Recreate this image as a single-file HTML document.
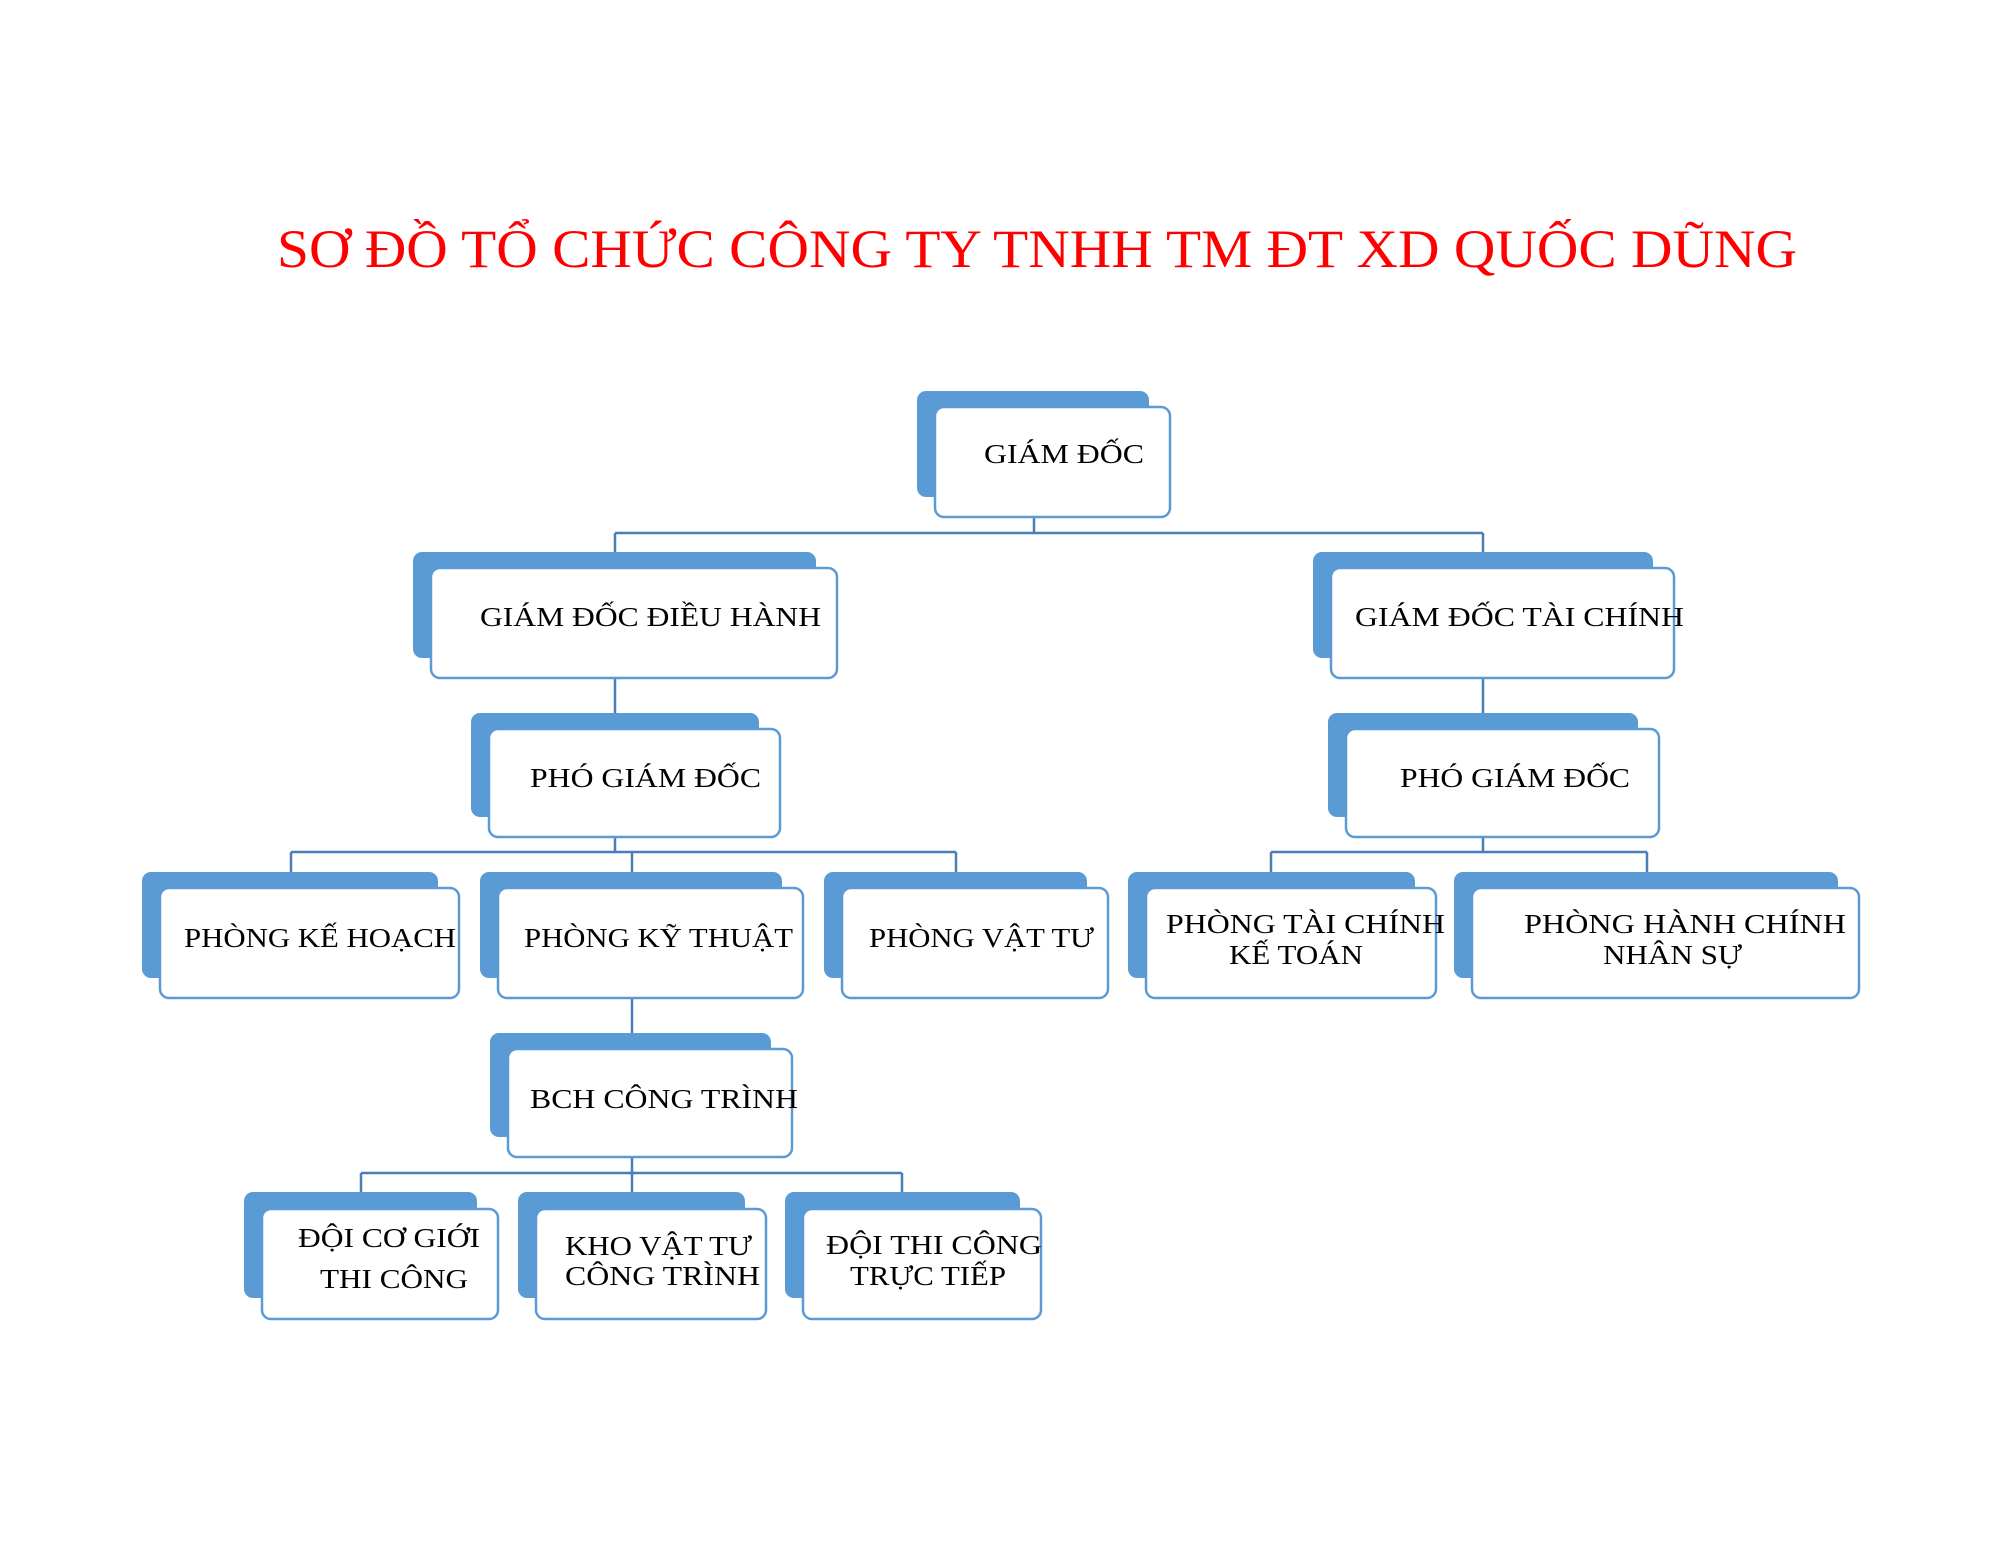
<!DOCTYPE html>
<html><head><meta charset="utf-8"><style>html,body{margin:0;padding:0;background:#fff}svg{display:block}</style></head>
<body>
<svg width="2000" height="1545" viewBox="0 0 2000 1545" xmlns="http://www.w3.org/2000/svg">
<defs>
<style>
.bk{fill:#5b9bd5}
.fr{fill:#fff;stroke:#5b9bd5;stroke-width:2.5}
.ln{stroke:#4a7eb8;stroke-width:2.5;fill:none}
text{font-family:"Liberation Serif","DejaVu Serif",serif;font-size:27px;fill:#000}
</style>
</defs>
<text x="277" y="267" style="font-size:54px;fill:#ff0000" textLength="1520" lengthAdjust="spacingAndGlyphs">SƠ ĐỒ TỔ CHỨC CÔNG TY TNHH TM ĐT XD QUỐC DŨNG</text>

<g class="ln">
<path d="M1034 517V533M615 533H1483M615 533V552M1483 533V552"/>
<path d="M615 678V713M1483 678V713"/>
<path d="M615 837V852M291 852H956M291 852V872M632 852V872M956 852V872"/>
<path d="M1483 837V852M1271 852H1647M1271 852V872M1647 852V872"/>
<path d="M632 998V1033"/>
<path d="M632 1157V1173M361 1173H902M361 1173V1192M632 1173V1192M902 1173V1192"/>
</g>

<g>
<rect class="bk" x="917" y="391" width="232" height="106" rx="9"/><rect class="fr" x="935" y="407" width="235" height="110" rx="9"/>
<rect class="bk" x="413" y="552" width="403" height="106" rx="9"/><rect class="fr" x="431" y="568" width="406" height="110" rx="9"/>
<rect class="bk" x="1313" y="552" width="340" height="106" rx="9"/><rect class="fr" x="1331" y="568" width="343" height="110" rx="9"/>
<rect class="bk" x="471" y="713" width="288" height="104" rx="9"/><rect class="fr" x="489" y="729" width="291" height="108" rx="9"/>
<rect class="bk" x="1328" y="713" width="310" height="104" rx="9"/><rect class="fr" x="1346" y="729" width="313" height="108" rx="9"/>
<rect class="bk" x="142" y="872" width="296" height="106" rx="9"/><rect class="fr" x="160" y="888" width="299" height="110" rx="9"/>
<rect class="bk" x="480" y="872" width="302" height="106" rx="9"/><rect class="fr" x="498" y="888" width="305" height="110" rx="9"/>
<rect class="bk" x="824" y="872" width="263" height="106" rx="9"/><rect class="fr" x="842" y="888" width="266" height="110" rx="9"/>
<rect class="bk" x="1128" y="872" width="287" height="106" rx="9"/><rect class="fr" x="1146" y="888" width="290" height="110" rx="9"/>
<rect class="bk" x="1454" y="872" width="384" height="106" rx="9"/><rect class="fr" x="1472" y="888" width="387" height="110" rx="9"/>
<rect class="bk" x="490" y="1033" width="281" height="104" rx="9"/><rect class="fr" x="508" y="1049" width="284" height="108" rx="9"/>
<rect class="bk" x="244" y="1192" width="233" height="106" rx="9"/><rect class="fr" x="262" y="1209" width="236" height="110" rx="9"/>
<rect class="bk" x="518" y="1192" width="227" height="106" rx="9"/><rect class="fr" x="536" y="1209" width="230" height="110" rx="9"/>
<rect class="bk" x="785" y="1192" width="235" height="106" rx="9"/><rect class="fr" x="803" y="1209" width="238" height="110" rx="9"/>
</g>

<text x="984" y="463" textLength="160" lengthAdjust="spacingAndGlyphs">GIÁM ĐỐC</text>
<text x="480" y="626" textLength="341" lengthAdjust="spacingAndGlyphs">GIÁM ĐỐC ĐIỀU HÀNH</text>
<text x="1355" y="626" textLength="329" lengthAdjust="spacingAndGlyphs">GIÁM ĐỐC TÀI CHÍNH</text>
<text x="530" y="787" textLength="231" lengthAdjust="spacingAndGlyphs">PHÓ GIÁM ĐỐC</text>
<text x="1400" y="787" textLength="230" lengthAdjust="spacingAndGlyphs">PHÓ GIÁM ĐỐC</text>
<text x="184" y="947" textLength="272" lengthAdjust="spacingAndGlyphs">PHÒNG KẾ HOẠCH</text>
<text x="524" y="947" textLength="269" lengthAdjust="spacingAndGlyphs">PHÒNG KỸ THUẬT</text>
<text x="869" y="947" textLength="225" lengthAdjust="spacingAndGlyphs">PHÒNG VẬT TƯ</text>
<text x="1166" y="933" textLength="279" lengthAdjust="spacingAndGlyphs">PHÒNG TÀI CHÍNH</text>
<text x="1229" y="964" textLength="134" lengthAdjust="spacingAndGlyphs">KẾ TOÁN</text>
<text x="1524" y="933" textLength="322" lengthAdjust="spacingAndGlyphs">PHÒNG HÀNH CHÍNH</text>
<text x="1603" y="964" textLength="139" lengthAdjust="spacingAndGlyphs">NHÂN SỰ</text>
<text x="530" y="1108" textLength="268" lengthAdjust="spacingAndGlyphs">BCH CÔNG TRÌNH</text>
<text x="298" y="1247" textLength="182" lengthAdjust="spacingAndGlyphs">ĐỘI CƠ GIỚI</text>
<text x="320" y="1288" textLength="148" lengthAdjust="spacingAndGlyphs">THI CÔNG</text>
<text x="565" y="1255" textLength="187" lengthAdjust="spacingAndGlyphs">KHO VẬT TƯ</text>
<text x="565" y="1285" textLength="195" lengthAdjust="spacingAndGlyphs">CÔNG TRÌNH</text>
<text x="826" y="1254" textLength="216" lengthAdjust="spacingAndGlyphs">ĐỘI THI CÔNG</text>
<text x="850" y="1285" textLength="156" lengthAdjust="spacingAndGlyphs">TRỰC TIẾP</text>
</svg>
</body></html>
